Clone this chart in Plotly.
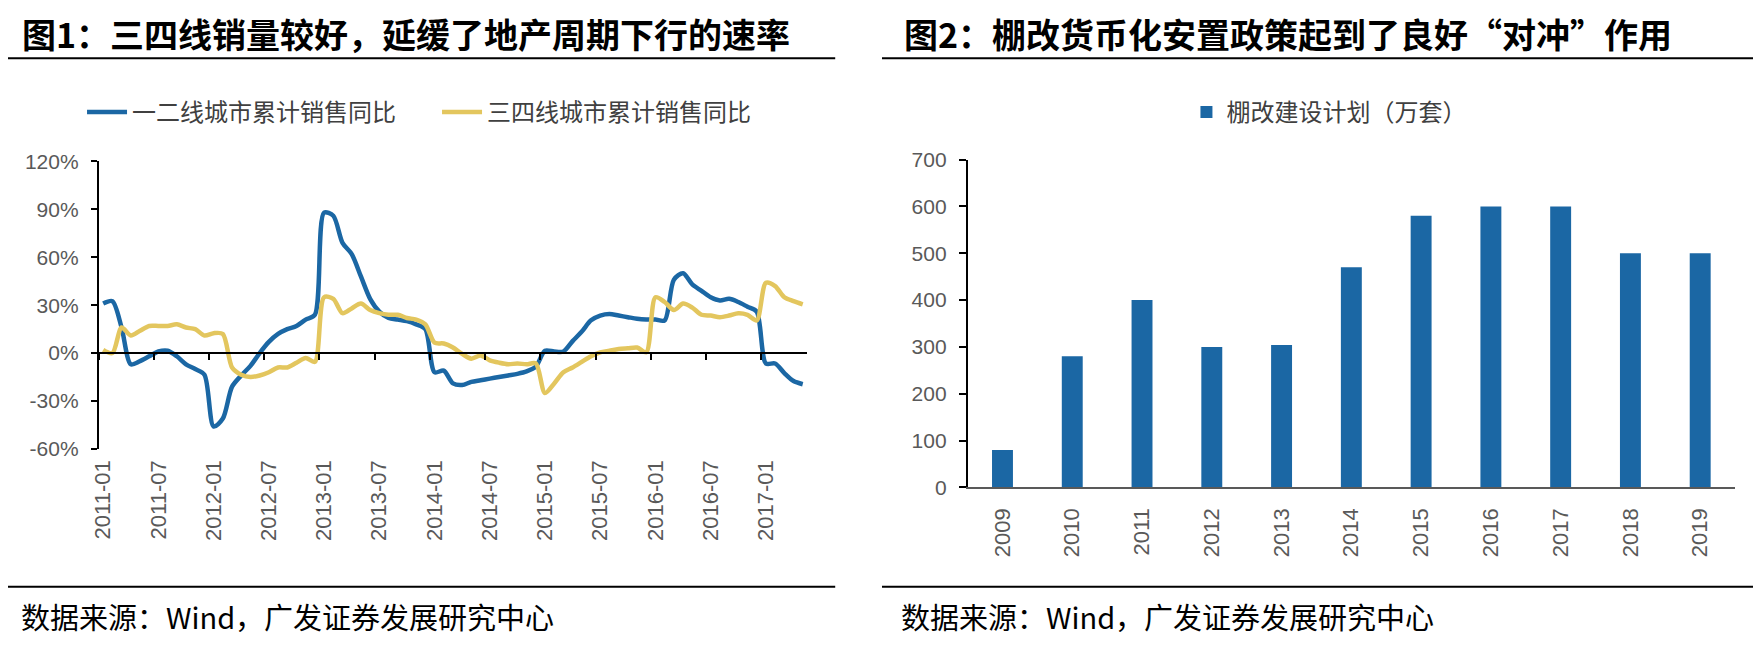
import plotly.graph_objects as go

W, H = 1753, 647

# ---------------- data ----------------
months = [f"{y}-{m:02d}" for y in range(2011, 2018) for m in range(1, 13)][:77]  # 2011-01 .. 2017-05

tier12_yoy = [31, 32.5, 16, -7, -5, -2, 1, 1.5, -2, -7, -10, -13.5,
              -46, -41, -21, -14, -8, 0, 7, 12, 15, 17, 21, 24,
              88, 86, 69, 62, 48, 34, 26, 22, 21, 20, 18, 15,
              -12, -11, -19, -20, -18, -17, -16, -15, -14, -13, -11.5, -8.5,
              1.5, 1, 1, 7.5, 13.5, 20.5, 23.5, 24.5, 23.5, 22.5, 21.5, 21,
              21, 20.5, 46, 50, 43, 39, 35, 33, 34, 32, 29, 26,
              -6.5, -6.5, -12.5, -17.5, -19.5]

tier34_yoy = [2, 0, 16, 11, 14, 17, 17, 17, 18, 16, 15, 11,
              12.5, 12, -9, -13.5, -15, -14, -12, -9, -9, -6, -3, -5.5,
              35, 34, 25, 28, 31, 27, 25, 24, 24, 22, 21, 18,
              6.5, 6, 3.5, -0.5, -3.5, -1.5, -4.5, -6, -7, -6.5, -7, -6.5,
              -25, -19, -12, -9, -5.5, -2, 0.5, 1.5, 2.5, 3, 3.5, 0.5,
              35, 32, 27, 31, 28.5, 24, 23.5, 22.5, 23.5, 25, 24, 20.5,
              44, 42, 35, 32.5, 30.5]

pct_ticks = [-60, -30, 0, 30, 60, 90, 120]
pct_labels = [f"{v}%" for v in pct_ticks]

years = ["2009", "2010", "2011", "2012", "2013", "2014", "2015", "2016", "2017", "2018", "2019"]
shed_plan = [80, 280, 400, 300, 304, 470, 580, 600, 600, 500, 500]
bar_ticks = [0, 100, 200, 300, 400, 500, 600, 700]

name12 = "一二线城市累计销售同比"
name34 = "三四线城市累计销售同比"
name_bar = "棚改建设计划（万套）"
title1 = "图1：三四线销量较好，延缓了地产周期下行的速率"
title2 = "图2：棚改货币化安置政策起到了良好“对冲”作用"
source = "数据来源：Wind，广发证券发展研究中心"

# ---------------- style ----------------
BLUE = "#1B67A4"
YELLOW = "#E3C65E"
GRAY = "#595959"
CJK = "Noto Sans CJK SC"
LAT = "Liberation Sans, Arial"

def px_x(p):
    return p / W

def px_y(p):
    return 1 - p / H

# plot areas (pixel based layout)
l_dom_x = [px_x(91), px_x(803)]
l_dom_y = [px_y(453), px_y(155)]
r_dom_x = [px_x(964), px_x(1735)]
r_dom_y = [px_y(493), px_y(153)]
l_range = [-60, 120]
zero_pos = l_dom_y[0] + (l_dom_y[1] - l_dom_y[0]) * (0 - l_range[0]) / (l_range[1] - l_range[0])

fig = go.Figure()

fig.add_trace(go.Scatter(x=months, y=tier12_yoy, name=name12, mode="lines",
                         line=dict(color=BLUE, width=4.5, shape="spline", smoothing=0.8),
                         xaxis="x", yaxis="y", legend="legend"))
fig.add_trace(go.Scatter(x=months, y=tier34_yoy, name=name34, mode="lines",
                         line=dict(color=YELLOW, width=4.5, shape="spline", smoothing=0.8),
                         xaxis="x", yaxis="y", legend="legend"))
# invisible helper trace for the axis drawn across the 0% line
fig.add_trace(go.Scatter(x=months, y=tier12_yoy, mode="lines", opacity=0,
                         line=dict(width=0), hoverinfo="skip", showlegend=False,
                         xaxis="x2", yaxis="y"))

fig.add_trace(go.Bar(x=years, y=shed_plan, name=name_bar, marker=dict(color=BLUE, line=dict(width=0)),
                     xaxis="x3", yaxis="y3", legend="legend2"))

tick_font = dict(family=LAT, size=21, color=GRAY)

fig.update_layout(
    width=W, height=H,
    margin=dict(l=0, r=0, t=0, b=0),
    paper_bgcolor="white", plot_bgcolor="white",
    showlegend=True,
    xaxis=dict(domain=l_dom_x, anchor="y", type="category", categoryorder="array",
               categoryarray=months, range=[-0.5, len(months) - 0.5],
               tickmode="linear", tick0=0, dtick=6, tickangle=-90,
               showline=False, ticks="", showgrid=False, zeroline=False,
               tickfont=dict(family=LAT, size=22, color=GRAY), ticklabelstandoff=6),
    xaxis2=dict(overlaying="x", anchor="free", position=zero_pos, type="category",
                categoryorder="array", categoryarray=months,
                range=[-0.5, len(months) - 0.5], tickmode="linear", tick0=0, dtick=6,
                showline=True, linecolor="black", linewidth=1.5,
                ticks="outside", tickson="boundaries", ticklen=6, tickwidth=1.5, tickcolor="black",
                showticklabels=False, showgrid=False, zeroline=False),
    yaxis=dict(domain=l_dom_y, anchor="x", range=l_range, tickmode="array",
               tickvals=pct_ticks, ticktext=pct_labels, showline=True, linecolor="black",
               linewidth=1.5, ticks="outside", ticklen=6, tickwidth=1.5, tickcolor="black",
               showgrid=False, zeroline=False, tickfont=tick_font, ticklabelstandoff=8),
    xaxis3=dict(domain=r_dom_x, anchor="y3", type="category", tickangle=-90,
                showline=True, linecolor="#595959", linewidth=2, ticks="",
                showgrid=False, zeroline=False,
                tickfont=dict(family=LAT, size=22, color=GRAY), ticklabelstandoff=10),
    yaxis3=dict(domain=r_dom_y, anchor="x3", range=[0, 700], tickmode="array",
                tickvals=bar_ticks, showline=True, linecolor="black", linewidth=1.5,
                ticks="outside", ticklen=7, tickwidth=1.5, tickcolor="black",
                showgrid=False, zeroline=False, tickfont=tick_font, ticklabelstandoff=8),
    bargap=0.7,
    legend=dict(orientation="h", x=px_x(431), xanchor="center", y=px_y(104), yanchor="middle",
                font=dict(family=CJK, size=24, color="#404040"), bgcolor="rgba(0,0,0,0)",
                itemwidth=40, entrywidth=300, traceorder="normal"),
    legend2=dict(orientation="h", x=px_x(1327), xanchor="center", y=px_y(104), yanchor="middle",
                 font=dict(family=CJK, size=24, color="#404040"), bgcolor="rgba(0,0,0,0)"),
)

# titles and source notes
ann = []
for xx, txt in [(12, title1), (898, title2)]:
    ann.append(dict(text=txt, x=px_x(xx), y=px_y(22), xref="paper", yref="paper",
                    xanchor="left", yanchor="middle", showarrow=False,
                    font=dict(family=CJK, size=34, color="black", weight="bold")))
for xx in (11, 895):
    ann.append(dict(text=source, x=px_x(xx), y=px_y(626), xref="paper", yref="paper",
                    xanchor="left", yanchor="middle", showarrow=False,
                    font=dict(family=CJK, size=29, color="black")))
fig.update_layout(annotations=ann)

# separator rules
shapes = []
for yy in (48, 596):
    shapes.append(dict(type="line", xref="paper", yref="paper", x0=0, x1=px_x(831),
                       y0=px_y(yy), y1=px_y(yy), line=dict(color="black", width=2)))
    shapes.append(dict(type="line", xref="paper", yref="paper", x0=px_x(878), x1=1,
                       y0=px_y(yy), y1=px_y(yy), line=dict(color="black", width=2)))
fig.update_layout(shapes=shapes)

fig.write_html("out.html", config={"displayModeBar": False},
               post_script="document.body.style.margin='0';document.body.style.overflow='hidden';")
